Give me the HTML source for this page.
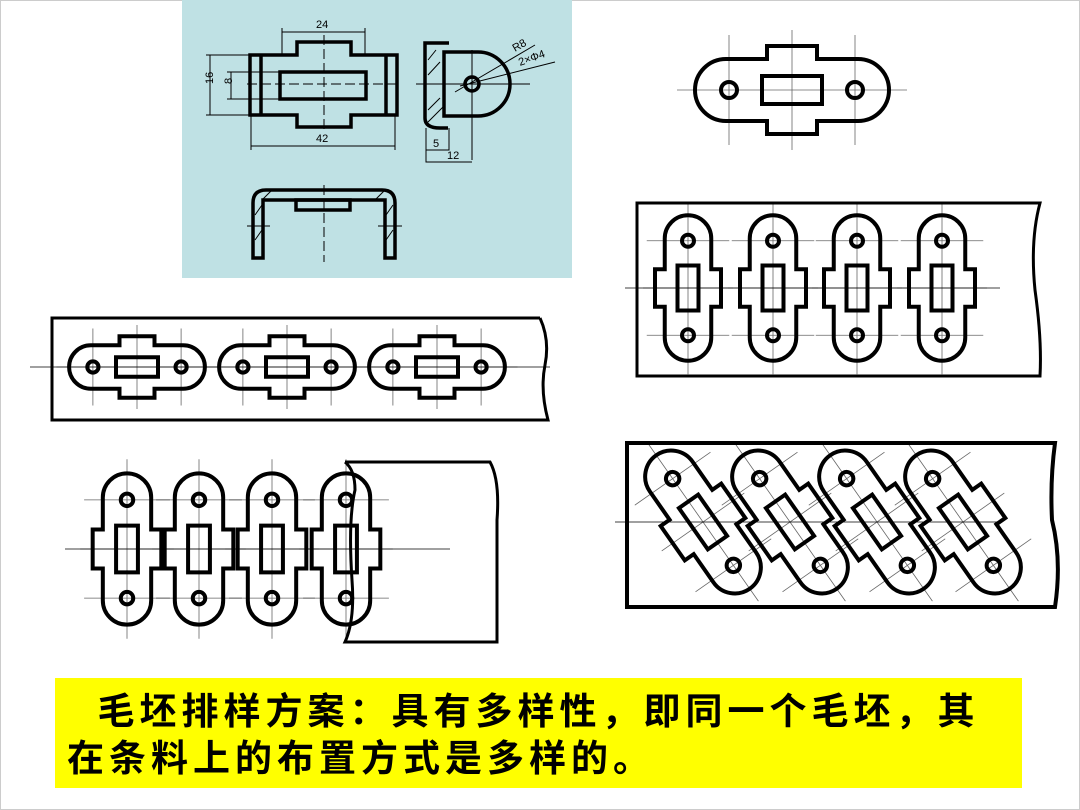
<!DOCTYPE html>
<html><head><meta charset="utf-8"><style>
body{margin:0;background:#fff;width:1080px;height:810px;overflow:hidden;position:relative}
svg{position:absolute;left:0;top:0}
.cap{position:absolute;left:55px;top:678px;width:967px;height:110px;background:#ffff00;font-family:"Liberation Sans","Noto Sans CJK SC",sans-serif;font-weight:bold;font-size:37px;letter-spacing:5px;line-height:47px;color:#000;box-sizing:border-box;padding:10px 0 0 12px;white-space:nowrap}
</style></head><body>
<svg width="1080" height="810" viewBox="0 0 1080 810">
<defs>
<g id="b">
<g stroke="#000" stroke-width="0.8" fill="none" opacity="0.6">
<line x1="-115" y1="0" x2="115" y2="0" vector-effect="non-scaling-stroke"/>
<line x1="0" y1="-60" x2="0" y2="60" vector-effect="non-scaling-stroke"/>
<line x1="-63" y1="-55" x2="-63" y2="55" vector-effect="non-scaling-stroke"/>
<line x1="63" y1="-55" x2="63" y2="55" vector-effect="non-scaling-stroke"/>
</g>
<g stroke="#000" stroke-width="4" fill="none">
<path vector-effect="non-scaling-stroke" d="M-66 -31 L-25 -31 L-25 -44 L25 -44 L25 -31 L66 -31 A31 31 0 0 1 66 31 L25 31 L25 44 L-25 44 L-25 31 L-66 31 A31 31 0 0 1 -66 -31 Z"/>
<rect vector-effect="non-scaling-stroke" x="-30" y="-14" width="60" height="28"/>
<circle vector-effect="non-scaling-stroke" cx="-63" cy="0" r="8"/>
<circle vector-effect="non-scaling-stroke" cx="63" cy="0" r="8"/>
</g>
</g>
</defs>
<rect x="0.5" y="0.5" width="1079" height="809" fill="none" stroke="#ccc"/>
<rect x="182" y="0" width="390" height="278" fill="#bfe1e4"/>
<g stroke="#000" fill="none" font-family="Liberation Sans,sans-serif">
<g stroke-width="3.5">
<path d="M250 55 H297 V42 H351 V55 H397 V115 H351 V127 H297 V115 H250 Z"/>
<line x1="261" y1="55" x2="261" y2="115"/><line x1="386" y1="55" x2="386" y2="115"/>
<rect x="280" y="72" width="86" height="27"/>
<path d="M444 52 V116 H478 A32 32 0 0 0 478 52 Z"/>
<path d="M449 43 H425 Q425 43 425 60 V118 Q425 128 440 128 H448"/>
<circle cx="472" cy="84" r="7"/>
<path d="M253 258 V203 Q253 190 266 190 H382 Q395 190 395 203 V258 H385 V200 H263 V258 Z"/>
<rect x="296" y="200" width="54" height="10"/>
</g>
<g stroke-width="1">
<path d="M247 84 H400" stroke-dasharray="10 4"/><path d="M324 35 V132" stroke-dasharray="10 4"/>
<path d="M416 84 H530"/><path d="M472 50 V160"/>
<path d="M282 32 H365 M282 28 V55 M365 28 V55"/>
<path d="M251 146 H395 M251 115 V150 M395 115 V150"/>
<path d="M210 55 V115 M206 55 H250 M206 115 H250"/>
<path d="M231 72 V99 M227 72 H280 M227 99 H280"/>
<path d="M426 128 V150 H449 V128 M426 150 V162 H472"/>
<path d="M455 92 L535 45 M460 86 L555 62"/>
<path d="M324 185 V262" stroke-dasharray="10 4"/>
<path d="M247 226 H270 M378 226 H402"/>
<path d="M428 60 L436 50 M428 75 L440 62 M428 110 L440 98 M428 122 L444 106" />
<path d="M255 215 L262 205 M255 240 L262 230 M386 215 L393 205 M386 240 L393 230 M262 200 L272 190 M375 200 L385 190"/>
</g>
<g fill="#000" stroke="none" font-size="11">
<text x="316" y="28">24</text><text x="316" y="142">42</text>
<text x="433" y="147">5</text><text x="447" y="159">12</text>
<text x="207" y="90" transform="rotate(-90 207 84)">16</text>
<text x="228" y="88" transform="rotate(-90 228 84)">8</text>
<text x="515" y="52" transform="rotate(-30 515 52)">R8</text>
<text x="520" y="66" transform="rotate(-20 520 66)">2×Φ4</text>
</g>
</g>
<use href="#b" transform="translate(792 90)"/>
<g stroke="#000" stroke-width="3" fill="none">
<path d="M540 318 H52 V420 H548 Q540 390 545 365 Q550 340 540 318"/>
<path d="M637 376 V203 H1040 Q1030 240 1035 290 Q1042 340 1040 376 Z"/>
<path d="M345 462 H490 Q500 480 497 520 V642 H345 Q355 620 352 580 Q348 520 355 490 Q355 470 345 462"/>
<path d="M627 443 H1055 Q1050 480 1052 520 Q1062 560 1055 607 H627 Z" stroke-width="4"/>
</g>
<g stroke="#000" stroke-width="0.8">
<line x1="30" y1="367" x2="550" y2="367"/>
<line x1="625" y1="288" x2="1000" y2="288"/>
<line x1="65" y1="549" x2="450" y2="549"/>
<line x1="615" y1="522" x2="1000" y2="522"/>
</g>
<use href="#b" transform="translate(137 367) scale(0.7)"/>
<use href="#b" transform="translate(287 367) scale(0.7)"/>
<use href="#b" transform="translate(437 367) scale(0.7)"/>
<use href="#b" transform="translate(688 288) rotate(90) scale(0.75)"/>
<use href="#b" transform="translate(773 288) rotate(90) scale(0.75)"/>
<use href="#b" transform="translate(857 288) rotate(90) scale(0.75)"/>
<use href="#b" transform="translate(942 288) rotate(90) scale(0.75)"/>
<use href="#b" transform="translate(127 549) rotate(90) scale(0.78)"/>
<use href="#b" transform="translate(199 549) rotate(90) scale(0.78)"/>
<use href="#b" transform="translate(272 549) rotate(90) scale(0.78)"/>
<use href="#b" transform="translate(346 549) rotate(90) scale(0.78)"/>
<use href="#b" transform="translate(703 522) rotate(55) scale(0.84)"/>
<use href="#b" transform="translate(790 522) rotate(55) scale(0.84)"/>
<use href="#b" transform="translate(877 522) rotate(55) scale(0.84)"/>
<use href="#b" transform="translate(963 522) rotate(55) scale(0.84)"/>
</svg>
<div class="cap">&nbsp;&nbsp;毛坯排样方案：具有多样性，即同一个毛坯，其<br>在条料上的布置方式是多样的。</div>
</body></html>
